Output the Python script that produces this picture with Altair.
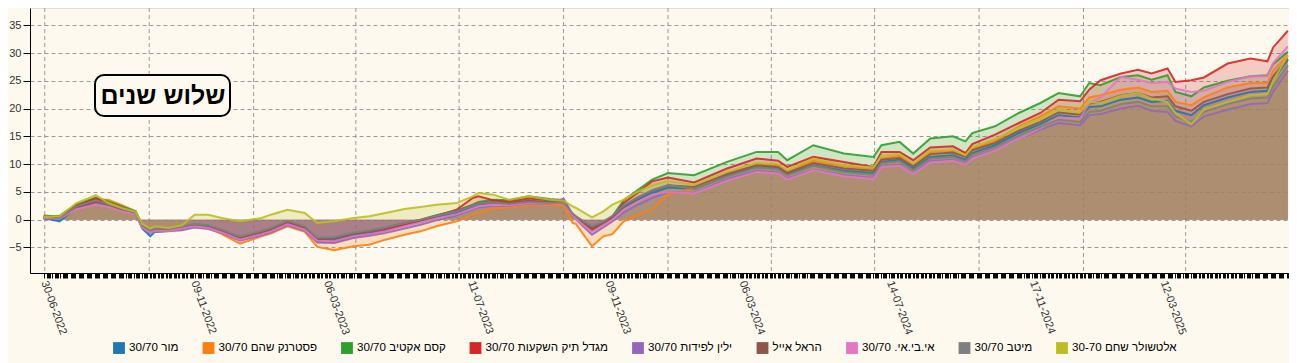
import json
import altair as alt
import pandas as pd

# ---------------- data ----------------
dates = [
    "2022-06-30", "2022-07-14", "2022-07-29", "2022-08-15", "2022-08-26", "2022-09-07", "2022-09-19", "2022-09-25", "2022-10-02", "2022-10-06",
    "2022-10-18", "2022-10-30", "2022-11-10", "2022-11-22", "2022-12-04", "2022-12-20", "2023-01-08", "2023-01-16", "2023-01-31", "2023-02-15",
    "2023-02-26", "2023-03-13", "2023-03-30", "2023-04-13", "2023-04-27", "2023-05-14", "2023-05-28", "2023-06-11", "2023-06-29", "2023-07-13",
    "2023-07-18", "2023-07-31", "2023-08-14", "2023-08-31", "2023-09-19", "2023-10-01", "2023-10-09", "2023-10-12", "2023-10-26", "2023-11-05",
    "2023-11-13", "2023-11-23", "2023-12-05", "2023-12-18", "2024-01-01", "2024-01-24", "2024-02-22", "2024-03-19", "2024-04-07", "2024-04-15",
    "2024-05-08", "2024-06-04", "2024-06-30", "2024-07-07", "2024-07-23", "2024-08-04", "2024-08-19", "2024-09-08", "2024-09-19", "2024-09-25",
    "2024-10-15", "2024-11-05", "2024-11-24", "2024-12-10", "2024-12-29", "2025-01-06", "2025-01-16", "2025-02-03", "2025-02-18", "2025-03-02",
    "2025-03-16", "2025-03-23", "2025-04-06", "2025-04-17", "2025-05-08", "2025-05-28", "2025-06-12", "2025-06-17", "2025-06-30",
]

series_names = [
    "מור 30/70",
    "פסטרנק שהם 30/70",
    "קסם אקטיב 30/70",
    "מגדל תיק השקעות 30/70",
    "ילין לפידות 30/70",
    "הראל אייל",
    "אי.בי.אי. 30/70",
    "מיטב 30/70",
    "אלטשולר שחם 30-70",
]
series_colors = ["#1f77b4", "#ff7f0e", "#2ca02c", "#d62728", "#9467bd",
                 "#8c564b", "#e377c2", "#7f7f7f", "#bcbd22"]

mor = [0.3, -0.3, 2.2, 3.3, 2.8, 1.9, 1.1, -1.6, -3.0, -2.2,
       -2.0, -1.7, -1.3, -1.5, -2.2, -3.5, -2.5, -2.0, -0.7, -1.6,
       -3.6, -3.7, -2.8, -2.4, -1.8, -1.0, -0.4, 0.4, 1.2, 2.3,
       2.7, 3.0, 2.9, 3.3, 3.1, 3.2, 0.8, 0.2, -1.9, -0.8,
       0.3, 2.1, 3.5, 4.8, 5.8, 5.5, 7.9, 9.5, 9.2, 8.2,
       9.8, 8.8, 8.4, 10.4, 10.8, 9.2, 11.3, 11.6, 10.8, 12.0,
       13.4, 15.6, 17.2, 18.8, 18.4, 20.3, 20.4, 21.6, 22.0, 21.2,
       21.4, 19.6, 18.8, 20.6, 22.0, 23.0, 23.2, 25.2, 28.8]

pasternak = [0.8, 0.5, 2.5, 3.6, 3.6, 2.6, 1.5, -1.2, -2.2, -1.8,
             -1.9, -1.6, -1.2, -1.5, -2.6, -4.3, -3.0, -2.5, -1.2, -2.2,
             -4.9, -5.5, -4.8, -4.5, -3.6, -2.7, -2.1, -1.2, -0.3, 0.9,
             1.3, 2.0, 2.2, 2.6, 2.7, 2.5, -0.6, -0.8, -4.8, -3.0,
             -2.6, -0.3, 0.8, 1.8, 4.5, 5.6, 8.3, 10.0, 9.8, 8.6,
             10.6, 9.6, 9.2, 11.0, 11.5, 10.0, 12.2, 12.4, 11.5, 12.8,
             14.2, 16.8, 18.6, 20.4, 20.0, 22.0, 22.4, 23.4, 23.8, 23.0,
             23.2, 21.2, 20.6, 22.0, 23.8, 24.6, 24.6, 26.8, 29.6]

kesem = [0.6, 0.7, 2.8, 4.0, 3.3, 2.4, 1.5, -1.0, -2.0, -1.8,
         -1.8, -1.4, -0.8, -1.1, -2.0, -3.6, -2.4, -1.9, -0.5, -1.5,
         -3.8, -4.0, -3.0, -2.6, -2.0, -1.0, -0.3, 0.6, 1.6, 2.7,
         3.2, 3.6, 3.5, 4.2, 3.7, 3.5, 0.8, 0.3, -1.4, -0.6,
         0.6, 3.5, 5.3, 7.2, 8.4, 8.0, 10.4, 12.2, 12.2, 10.7,
         13.4, 11.9, 11.3, 13.4, 14.0, 11.9, 14.6, 15.0, 14.1, 15.6,
         16.8, 19.2, 21.0, 22.8, 22.2, 24.6, 24.2, 25.7, 26.0, 25.2,
         26.0, 23.0, 22.2, 23.8, 25.0, 25.8, 26.0, 28.0, 30.2]

migdal = [0.4, 0.5, 2.5, 3.8, 3.0, 2.2, 1.3, -1.2, -2.0, -1.9,
          -1.9, -1.5, -1.0, -1.4, -2.2, -3.6, -2.6, -2.0, -0.6, -1.7,
          -3.9, -4.0, -3.1, -2.6, -1.9, -0.9, -0.2, 0.7, 1.8, 3.9,
          4.2, 3.5, 3.2, 3.8, 3.5, 3.6, 0.6, 0.2, -1.8, -0.8,
          0.4, 3.0, 4.8, 6.9, 7.6, 6.7, 9.2, 11.0, 10.6, 9.5,
          11.3, 10.4, 9.5, 12.2, 12.2, 10.7, 13.0, 13.2, 12.0, 13.6,
          15.3, 17.4, 19.2, 21.6, 21.3, 23.4, 25.1, 26.3, 27.0, 26.3,
          27.2, 24.8, 25.1, 25.6, 28.1, 29.0, 28.5, 31.0, 34.0]

yalin = [0.2, 0.1, 2.0, 3.0, 2.5, 1.6, 0.9, -1.5, -2.4, -2.2,
         -2.1, -1.9, -1.4, -1.7, -2.4, -3.8, -2.8, -2.3, -1.0, -2.0,
         -4.1, -4.2, -3.3, -2.9, -2.4, -1.6, -0.9, -0.1, 0.8, 1.8,
         2.2, 2.5, 2.5, 2.9, 2.8, 3.8, 0.9, 0.0, -2.7, -1.4,
         -0.3, 1.3, 2.6, 3.9, 5.0, 4.8, 7.3, 8.8, 8.5, 7.4,
         9.0, 8.0, 7.5, 9.6, 9.9, 8.3, 10.5, 10.8, 10.0, 11.2,
         12.5, 14.6, 16.2, 17.4, 17.0, 18.8, 19.0, 20.0, 20.5, 19.6,
         19.4, 17.8, 16.8, 18.6, 19.8, 20.8, 21.0, 23.0, 26.8]

harel = [0.4, 0.4, 2.2, 3.2, 2.7, 1.8, 1.2, -1.3, -2.1, -1.9,
         -1.9, -1.5, -1.0, -1.3, -2.0, -3.3, -2.3, -1.8, -0.4, -1.4,
         -3.5, -3.4, -2.6, -2.1, -1.5, -0.6, 0.0, 0.8, 1.6, 2.6,
         3.0, 3.2, 3.0, 3.4, 3.2, 3.2, 1.0, 0.5, -1.6, -0.6,
         0.5, 2.4, 3.9, 5.2, 6.2, 5.9, 8.2, 9.8, 9.5, 8.4,
         10.2, 9.2, 8.8, 10.8, 11.1, 9.6, 11.8, 12.1, 11.3, 12.5,
         13.8, 16.0, 17.6, 19.3, 18.9, 20.9, 21.2, 22.4, 22.8, 22.0,
         22.2, 20.4, 19.6, 21.2, 22.6, 23.6, 23.8, 25.8, 29.0]

ibi = [0.3, 0.2, 1.9, 2.7, 2.3, 1.5, 0.9, -1.4, -2.3, -2.0,
       -2.0, -1.6, -1.2, -1.5, -2.3, -3.6, -2.6, -2.1, -0.8, -1.8,
       -3.8, -3.9, -3.0, -2.6, -2.1, -1.2, -0.5, 0.2, 1.0, 2.0,
       2.4, 2.7, 2.6, 3.0, 2.9, 3.0, 0.7, 0.1, -2.2, -1.0,
       0.0, 1.8, 3.2, 4.5, 5.0, 4.7, 7.0, 8.6, 8.3, 7.2,
       8.9, 7.8, 7.3, 9.5, 9.7, 8.2, 10.3, 10.6, 9.9, 11.0,
       12.4, 14.6, 16.5, 18.4, 18.2, 21.0, 22.0, 25.7, 25.2, 24.6,
       24.8, 23.6, 23.0, 23.2, 24.8, 25.8, 25.8, 28.2, 31.2]

meitav = [0.5, 0.3, 2.4, 3.5, 2.8, 2.0, 1.2, -1.1, -1.9, -1.6,
          -1.7, -1.2, -0.8, -1.0, -1.8, -3.0, -2.0, -1.5, -0.2, -1.2,
          -3.2, -3.1, -2.3, -1.9, -1.4, -0.6, 0.0, 0.7, 1.5, 2.5,
          2.9, 3.1, 2.8, 3.2, 3.0, 3.1, 1.1, 0.6, -1.2, -0.3,
          0.7, 2.6, 4.0, 5.3, 6.2, 5.6, 7.8, 9.4, 9.1, 8.0,
          9.7, 8.6, 8.1, 10.2, 10.5, 8.9, 11.0, 11.3, 10.5, 11.7,
          13.0, 15.1, 16.7, 18.0, 17.6, 19.4, 19.6, 20.8, 21.2, 20.4,
          20.4, 18.6, 17.6, 19.4, 20.8, 21.8, 22.0, 24.0, 27.8]

altshuler = [0.5, 0.6, 3.0, 4.4, 3.0, 2.1, 1.4, -0.8, -1.6, -1.2,
             -1.5, -1.0, 0.9, 0.9, 0.3, -0.3, 0.3, 0.9, 1.8, 1.2,
             -0.6, -0.3, 0.3, 0.6, 1.2, 1.9, 2.3, 2.7, 3.0, 4.2,
             4.8, 4.5, 3.6, 4.2, 3.6, 3.4, 2.4, 2.1, 0.4, 1.5,
             2.7, 3.6, 5.0, 6.2, 6.9, 6.3, 8.6, 10.2, 10.0, 8.9,
             11.0, 9.8, 9.4, 11.5, 11.8, 10.1, 12.4, 12.6, 11.6, 13.0,
             14.5, 16.6, 18.2, 19.8, 19.3, 21.2, 21.0, 22.3, 22.8, 21.8,
             21.2, 19.2, 17.2, 19.8, 21.2, 22.4, 22.6, 25.0, 29.5]

all_values = [mor, pasternak, kesem, migdal, yalin, harel, ibi, meitav, altshuler]

x_label_dates = ["30-06-2022", "09-11-2022", "06-03-2023", "11-07-2023", "09-11-2023",
                 "06-03-2024", "14-07-2024", "17-11-2024", "12-03-2025"]
quarter_grid_dates = ["2022-07-01", "2022-10-01", "2023-01-01", "2023-04-01", "2023-07-01",
                      "2023-10-01", "2024-01-01", "2024-04-01", "2024-07-01", "2024-10-01",
                      "2025-01-01", "2025-04-01"]
y_ticks = [-5, 0, 5, 10, 15, 20, 25, 30, 35]
title_text = "שלוש שנים"

# ---------------- tables ----------------
rows = []
for name, vals in zip(series_names, all_values):
    for d, v in zip(dates, vals):
        rows.append({"date": d, "series": name, "value": v})
df = pd.DataFrame(rows)


def ms(s, fmt=None):
    return int(pd.Timestamp(pd.to_datetime(s, format=fmt), tz="UTC").value // 10**6)


# one tick per trading day (Sun-Thu)
trading_days = pd.bdate_range("2022-06-30", "2025-06-30", freq="C",
                              weekmask="Sun Mon Tue Wed Thu")
tick_values = sorted(set([int(pd.Timestamp(t, tz="UTC").value // 10**6) for t in trading_days]
                         + [ms(s, "%d-%m-%Y") for s in x_label_dates]))

label_expr = ("indexof(" + json.dumps(x_label_dates) + ", utcFormat(datum.value, '%d-%m-%Y')) >= 0 ? "
              "utcFormat(datum.value, '%d-%m-%Y') : ''")

BG = "#fdf9ee"
FONT = "Liberation Sans"

x_scale = alt.Scale(domain=[ms("2022-06-18"), ms("2025-07-01")], nice=False)
y_scale = alt.Scale(domain=[-9.6, 38.1], nice=False, zero=False)

x_axis = alt.Axis(values=tick_values, labelExpr=label_expr, grid=False, title=None,
                  labelAngle=70, labelAlign="left", labelBaseline="middle",
                  labelOverlap=False, labelFlush=False, labelBound=False,
                  tickSize=5, tickColor="#000", domainColor="#000",
                  labelFontSize=11, labelColor="#333", labelPadding=3, labelFont=FONT)
y_axis = alt.Axis(values=y_ticks, grid=True, gridColor="#9a9a9a", gridDash=[4, 3],
                  title=None, tickSize=7, tickColor="#000", domainColor="#000",
                  labelFontSize=11, labelColor="#333", labelPadding=2, labelFont=FONT)

color_scale = alt.Scale(domain=series_names, range=series_colors)

x_enc = alt.X("date:T", scale=x_scale, axis=x_axis)
y_enc = alt.Y("value:Q", scale=y_scale, axis=y_axis, stack=None)

vgrid = alt.Chart(pd.DataFrame({"g": quarter_grid_dates})).mark_rule(
    color="#9a9a9a", strokeDash=[4, 3], strokeWidth=1
).encode(x=alt.X("g:T", scale=x_scale, axis=x_axis))

areas = alt.Chart(df).mark_area(opacity=0.22, interpolate="linear").encode(
    x=x_enc, y=y_enc,
    color=alt.Color("series:N", scale=color_scale,
                    legend=alt.Legend(orient="none", legendX=83, legendY=334,
                                      direction="horizontal", columns=9, title=None,
                                      symbolType="square", symbolSize=140,
                                      symbolOpacity=1, symbolStrokeWidth=0,
                                      labelFontSize=11.6, labelFont=FONT, labelColor="#000",
                                      labelOffset=4, columnPadding=23.5, labelLimit=300)),
)

lines = alt.Chart(df).mark_line(strokeWidth=2, opacity=0.9).encode(
    x=x_enc, y=y_enc,
    color=alt.Color("series:N", scale=color_scale, legend=None),
)

box = alt.Chart(pd.DataFrame({"k": [0]})).mark_rect(
    fill=BG, stroke="#000", strokeWidth=2, cornerRadius=9
).encode(x=alt.value(65), x2=alt.value(200), y=alt.value(67), y2=alt.value(108))

title = alt.Chart(pd.DataFrame({"t": [title_text]})).mark_text(
    fontSize=25, fontWeight="bold", font=FONT, color="#000", baseline="middle", align="center"
).encode(text="t:N", x=alt.value(133), y=alt.value(88))

chart = alt.layer(vgrid, areas, lines, box, title).properties(
    width=1259, height=265,
    autosize=alt.AutoSizeParams(type="none"),
    padding={"left": 22, "top": 0, "right": 0, "bottom": 90},
    background=BG,
).configure_view(stroke=None).configure(font=FONT)

chart.save("out.html", embed_options={"renderer": "svg", "actions": False})
